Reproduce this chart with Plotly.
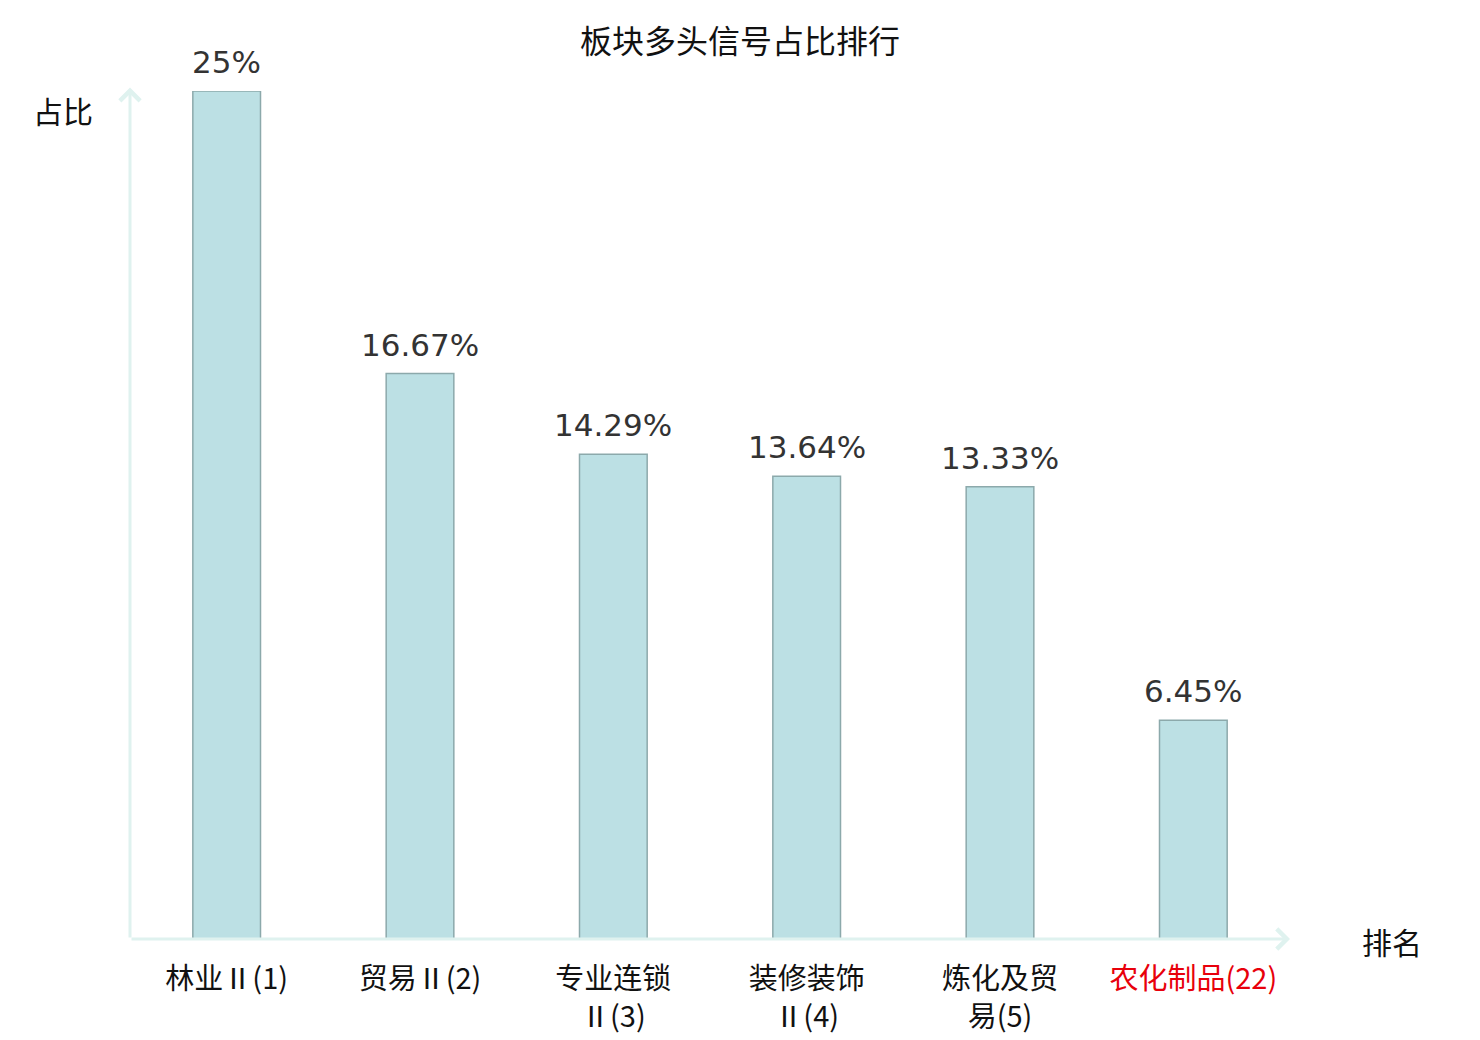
import plotly.graph_objects as go

# 板块多头信号占比排行
sectors = ["林业Ⅱ", "贸易Ⅱ", "专业连锁<br>Ⅱ", "装修装饰<br>Ⅱ", "炼化及贸<br>易", "农化制品"]
ranks = [1, 2, 3, 4, 5, 22]
ratios = [25, 16.67, 14.29, 13.64, 13.33, 6.45]
ratio_labels = ["25%", "16.67%", "14.29%", "13.64%", "13.33%", "6.45%"]

cjk = "Noto Sans CJK SC"
axis_col = "#dff2ef"

ticktext = []
for i, (s, r) in enumerate(zip(sectors, ranks)):
    t = f"{s}({r})"
    if i == len(sectors) - 1:  # the highlighted sector
        t = f"<span style='color:#e8000b'>{t}</span>"
    ticktext.append(t)

xs = list(range(len(sectors)))
fig = go.Figure(go.Bar(
    x=xs, y=ratios,
    width=0.35,
    marker=dict(color="#bce0e4", line=dict(color="#8ca9ab", width=1.5)),
))

# value labels above the bars
for x, v, lab in zip(xs, ratios, ratio_labels):
    fig.add_annotation(x=x, y=v, xref="x", yref="y", text=lab, showarrow=False,
                       yanchor="bottom", yshift=9,
                       font=dict(family="DejaVu Sans", size=31, color="#333333"))

# page has an 8px body margin, so margins are offset by 8
fig.update_layout(
    width=1480, height=1040,
    margin=dict(l=122, r=198, t=83, b=109),
    plot_bgcolor="white", paper_bgcolor="white",
    showlegend=False,
    title=dict(text="板块多头信号占比排行", x=0.5 - 8 / 1480, xanchor="center", y=1 - 34 / 1040,
               yanchor="middle", font=dict(family=cjk, size=32, color="#111111")),
    font=dict(family=cjk),
)
fig.update_xaxes(range=[-0.5, 5.5], tickvals=xs, ticktext=ticktext,
                 showgrid=False, zeroline=False, showline=False, ticks="",
                 ticklabelstandoff=20,
                 tickfont=dict(family=cjk, size=29, color="#111111"))
fig.update_yaxes(range=[0, 25], showgrid=False, zeroline=False, showline=False,
                 showticklabels=False, ticks="")

# axis lines with arrows
fig.add_annotation(x=5.5, y=0, ax=-0.5, ay=0, xref="x", yref="y", axref="x", ayref="y",
                   text="", showarrow=True, arrowhead=4, arrowsize=1.3, arrowwidth=3,
                   arrowcolor=axis_col)
fig.add_annotation(x=-0.5, y=25.1, ax=-0.5, ay=0, xref="x", yref="y", axref="x", ayref="y",
                   text="", showarrow=True, arrowhead=4, arrowsize=1.3, arrowwidth=3,
                   arrowcolor=axis_col)
fig.add_annotation(x=(63 - 130) / 1160, y=(939 - 110) / 848, xref="paper", yref="paper",
                   xanchor="center", yanchor="middle", text="占比", showarrow=False,
                   font=dict(family=cjk, size=30, color="#111111"))
fig.add_annotation(x=(1392 - 130) / 1160, y=(939 - 941) / 848, xref="paper", yref="paper",
                   xanchor="center", yanchor="middle", text="排名", showarrow=False,
                   font=dict(family=cjk, size=30, color="#111111"))

fig.write_html("out.html")
